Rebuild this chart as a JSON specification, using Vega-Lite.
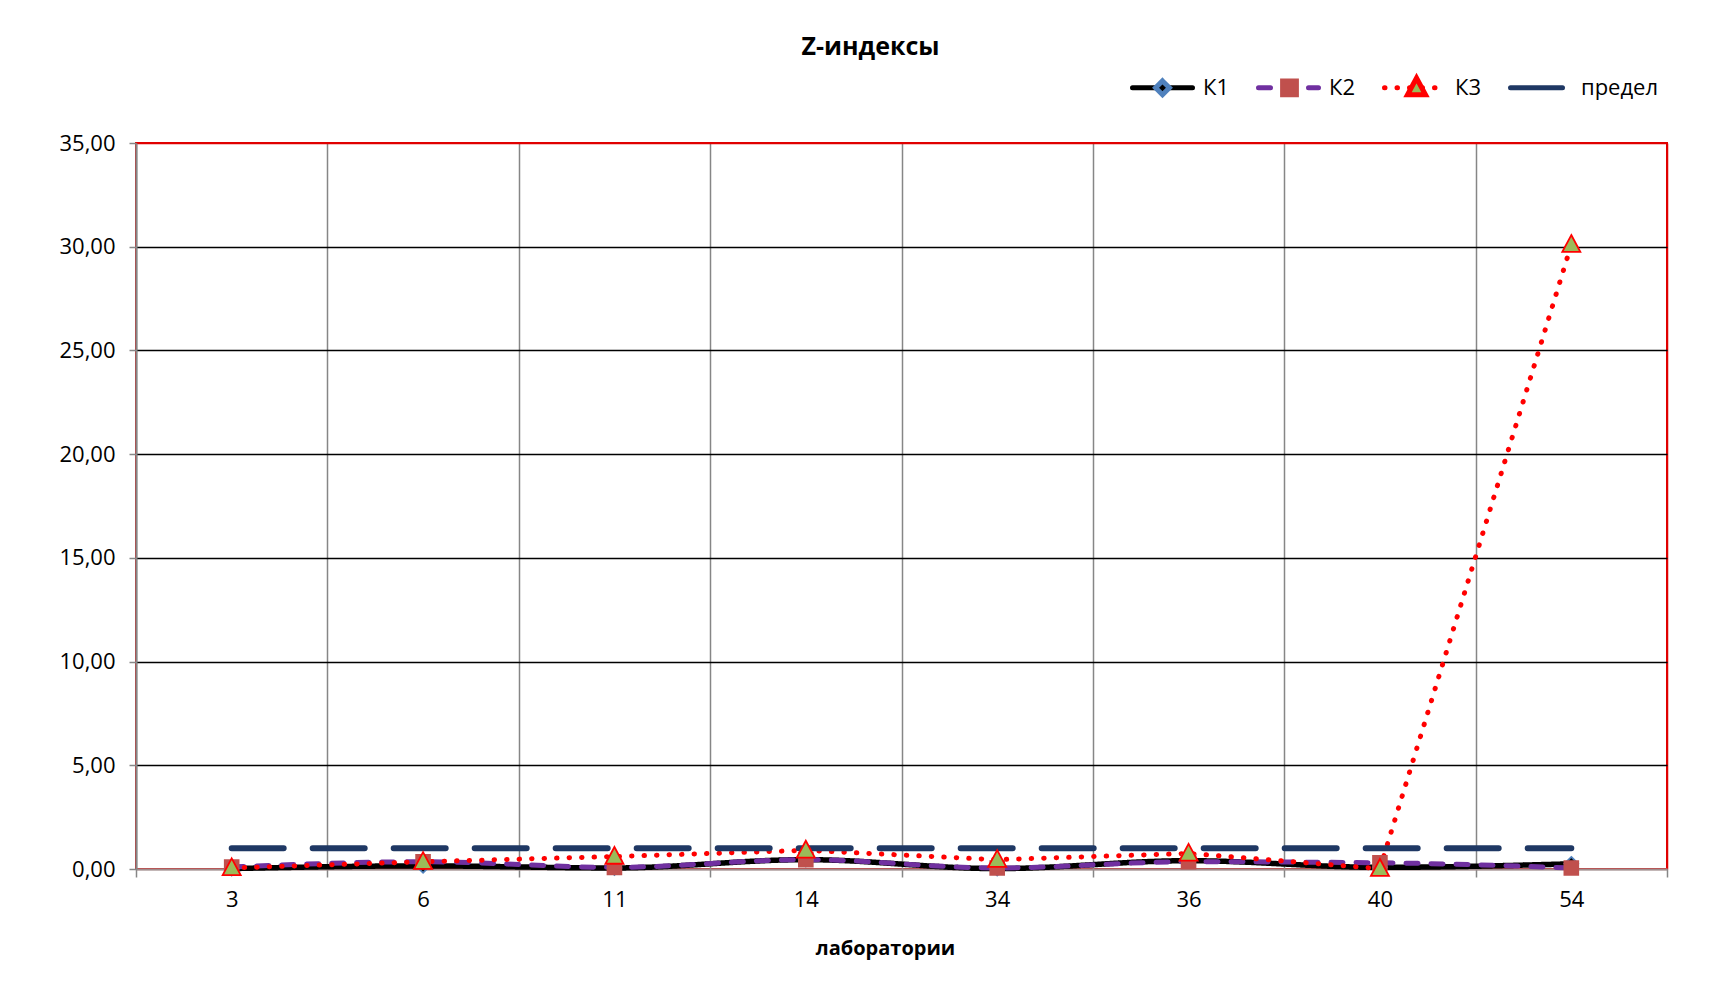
{
  "$schema": "https://vega.github.io/schema/vega-lite/v6.json",
  "width": 1531,
  "height": 726,
  "autosize": {"type": "none"},
  "padding": {"left": 136, "top": 143, "right": 49, "bottom": 125},
  "background": "white",
  "config": {
    "font": "Open Sans",
    "view": {"stroke": "#E00000", "strokeWidth": 2}
  },
  "title": {
    "text": "Z-индексы",
    "fontSize": 25,
    "fontWeight": "bold",
    "font": "Open Sans",
    "color": "#000000",
    "anchor": "middle",
    "dx": -31,
    "offset": 0,
    "dy": 5
  },
  "data": {
    "values": [
      {"lab": "3", "series": "К1", "z": 0.02},
      {"lab": "6", "series": "К1", "z": 0.15},
      {"lab": "11", "series": "К1", "z": 0.05},
      {"lab": "14", "series": "К1", "z": 0.45},
      {"lab": "34", "series": "К1", "z": 0.02},
      {"lab": "36", "series": "К1", "z": 0.4},
      {"lab": "40", "series": "К1", "z": 0.08},
      {"lab": "54", "series": "К1", "z": 0.25},
      {"lab": "3", "series": "К2", "z": 0.1},
      {"lab": "6", "series": "К2", "z": 0.35},
      {"lab": "11", "series": "К2", "z": 0.08},
      {"lab": "14", "series": "К2", "z": 0.45},
      {"lab": "34", "series": "К2", "z": 0.05},
      {"lab": "36", "series": "К2", "z": 0.35},
      {"lab": "40", "series": "К2", "z": 0.3},
      {"lab": "54", "series": "К2", "z": 0.05},
      {"lab": "3", "series": "К3", "z": 0.05},
      {"lab": "6", "series": "К3", "z": 0.35},
      {"lab": "11", "series": "К3", "z": 0.6},
      {"lab": "14", "series": "К3", "z": 0.9},
      {"lab": "34", "series": "К3", "z": 0.45},
      {"lab": "36", "series": "К3", "z": 0.75},
      {"lab": "40", "series": "К3", "z": 0.02},
      {"lab": "54", "series": "К3", "z": 30.1},
      {"lab": "3", "series": "предел", "z": 1},
      {"lab": "6", "series": "предел", "z": 1},
      {"lab": "11", "series": "предел", "z": 1},
      {"lab": "14", "series": "предел", "z": 1},
      {"lab": "34", "series": "предел", "z": 1},
      {"lab": "36", "series": "предел", "z": 1},
      {"lab": "40", "series": "предел", "z": 1},
      {"lab": "54", "series": "предел", "z": 1}
    ]
  },
  "encoding": {
    "x": {
      "field": "lab",
      "type": "ordinal",
      "sort": ["3", "6", "11", "14", "34", "36", "40", "54"],
      "scale": {"type": "band", "paddingInner": 0, "paddingOuter": 0},
      "axis": {
        "tickBand": "extent",
        "labelAngle": 0,
        "labelFontSize": 22,
        "labelColor": "#000000",
        "labelPadding": 12,
        "tickSize": 8,
        "tickColor": "#868686",
        "tickWidth": 1.5,
        "domainColor": "#A08C8C",
        "domainWidth": 2,
        "grid": true,
        "gridColor": {
          "condition": [
            {"test": "datum.value === '54'", "value": "#E00000"},
            {"test": "datum.extra", "value": "#868686"}
          ],
          "value": "#868686"
        },
        "gridWidth": 1.5,
        "gridOpacity": 1,
        "title": "лаборатории",
        "titleFontSize": 20,
        "titleFontWeight": "bold",
        "titleColor": "#000000",
        "titleX": 749,
        "titleY": 79,
        "titleBaseline": "middle"
      }
    },
    "y": {
      "field": "z",
      "type": "quantitative",
      "scale": {"domain": [0, 35], "nice": false},
      "axis": {
        "values": [0, 5, 10, 15, 20, 25, 30, 35],
        "labelExpr": "replace(format(datum.value, '.2f'), '.', ',')",
        "labelFontSize": 22,
        "labelColor": "#000000",
        "labelPadding": 14,
        "tickSize": 7,
        "tickColor": "#868686",
        "tickWidth": 1.5,
        "domainColor": "#868686",
        "domainWidth": 2,
        "grid": true,
        "gridColor": {
          "condition": [
            {"test": "datum.value == 35", "value": "#E00000"},
            {"test": "datum.value == 0", "value": "#A08C8C"}
          ],
          "value": "#000000"
        },
        "gridWidth": 1.5,
        "gridOpacity": 1,
        "title": null
      }
    }
  },
  "layer": [
    {
      "transform": [{"filter": "datum.series === 'К1'"}],
      "mark": {"type": "line", "strokeWidth": 5.5, "interpolate": "monotone", "strokeCap": "round", "strokeJoin": "round"},
      "encoding": {
        "color": {
          "field": "series", "type": "nominal",
          "scale": {"domain": ["К1", "К2", "К3", "предел"], "range": ["#000000", "#7030A0", "#FF0000", "#1F3864"]},
          "legend": {"orient": "none", "legendX": 994, "legendY": -88, "direction": "horizontal", "title": null, "padding": 0, "symbolType": "stroke", "symbolSize": 3600, "symbolStrokeWidth": 5, "labelFontSize": 22, "labelColor": "#000000", "labelOffset": 8, "columnPadding": 19, "encode": {"symbols": {"update": {"strokeCap": {"value": "round"}}}}}
        },
        "strokeDash": {
          "field": "series", "type": "nominal",
          "scale": {"domain": ["К1", "К2", "К3", "предел"], "range": [[1, 0], [12, 13], [0.5, 12], [52, 29]]},
          "legend": {"orient": "none", "legendX": 994, "legendY": -88, "direction": "horizontal", "title": null, "padding": 0, "symbolType": "stroke", "symbolSize": 3600, "symbolStrokeWidth": 5, "labelFontSize": 22, "labelColor": "#000000", "labelOffset": 8, "columnPadding": 19, "encode": {"symbols": {"update": {"strokeCap": {"value": "round"}}}}}
        }
      }
    },
    {
      "transform": [{"filter": "datum.series === 'К2'"}],
      "mark": {"type": "line", "strokeWidth": 5, "interpolate": "monotone", "strokeCap": "round", "strokeJoin": "round"},
      "encoding": {
        "color": {"field": "series", "type": "nominal"},
        "strokeDash": {"field": "series", "type": "nominal"}
      }
    },
    {
      "transform": [{"filter": "datum.series === 'К3'"}],
      "mark": {"type": "line", "strokeWidth": 5, "interpolate": "linear", "strokeCap": "round", "strokeJoin": "round"},
      "encoding": {
        "color": {"field": "series", "type": "nominal"},
        "strokeDash": {"field": "series", "type": "nominal"}
      }
    },
    {
      "transform": [{"filter": "datum.series === 'предел'"}],
      "mark": {"type": "line", "strokeWidth": 6, "interpolate": "linear", "strokeCap": "round"},
      "encoding": {
        "color": {"field": "series", "type": "nominal"},
        "strokeDash": {"field": "series", "type": "nominal"}
      }
    },
    {
      "mark": {"type": "point", "filled": true, "size": 3600, "strokeWidth": 1.8, "opacity": 1},
      "encoding": {
        "shape": {
          "field": "series", "type": "nominal",
          "scale": {"range": ["M0,-0.23L0.23,0L0,0.23L-0.23,0Z", "M-0.23,-0.23L0.23,-0.23L0.23,0.23L-0.23,0.23Z", "M0,-0.32L0.3,0.24L-0.3,0.24Z", "M0,0"]},
          "legend": {"orient": "none", "legendX": 994, "legendY": -88, "direction": "horizontal", "title": null, "padding": 0, "symbolSize": 3600, "symbolStrokeWidth": 5, "labelFontSize": 22, "labelExpr": "''", "labelOffset": 8, "columnPadding": 54, "encode": {"symbols": {"update": {"strokeWidth": {"value": 1.8}}}}}
        },
        "fill": {
          "field": "series", "type": "nominal",
          "scale": {"range": ["#000000", "#C0504D", "#9BBB59", "transparent"]},
          "legend": {"orient": "none", "legendX": 994, "legendY": -88, "direction": "horizontal", "title": null, "padding": 0, "symbolSize": 3600, "symbolStrokeWidth": 5, "labelFontSize": 22, "labelExpr": "''", "labelOffset": 8, "columnPadding": 54, "encode": {"symbols": {"update": {"strokeWidth": {"value": 1.8}}}}}
        },
        "stroke": {
          "field": "series", "type": "nominal",
          "scale": {"range": ["#4F81BD", "#C0504D", "#FF0000", "transparent"]},
          "legend": {"orient": "none", "legendX": 994, "legendY": -88, "direction": "horizontal", "title": null, "padding": 0, "symbolSize": 3600, "symbolStrokeWidth": 5, "labelFontSize": 22, "labelExpr": "''", "labelOffset": 8, "columnPadding": 54, "encode": {"symbols": {"update": {"strokeWidth": {"value": 1.8}}}}}
        }
      }
    }
  ]
}
